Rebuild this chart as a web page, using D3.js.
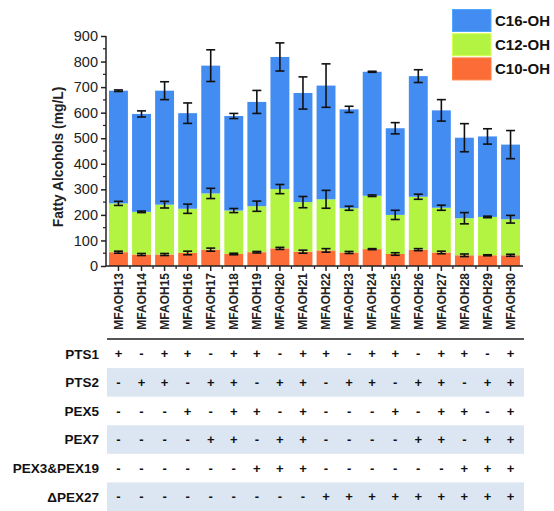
<!DOCTYPE html>
<html><head><meta charset="utf-8">
<script src="https://cdn.jsdelivr.net/npm/d3@7"></script>
<style>body{margin:0;background:#fff}svg{display:block}text{font-family:"Liberation Sans",Arial,sans-serif}</style>
</head><body><svg id="c" width="554" height="511"></svg>
<script>
const strains = ["MFAOH13","MFAOH14","MFAOH15","MFAOH16","MFAOH17","MFAOH18","MFAOH19","MFAOH20","MFAOH21","MFAOH22","MFAOH23","MFAOH24","MFAOH25","MFAOH26","MFAOH27","MFAOH28","MFAOH29","MFAOH30"];
// cumulative tops (mg/L)
const c10Top = [54,45,45,51,64,47,54,69,56,61,53,66,47,64,53,42,42,42];
const c12Top = [245,212,240,224,284,217,234,301,250,261,226,275,200,271,228,187,192,183];
const c16Top = [686,595,686,598,784,587,642,818,677,706,613,760,539,743,609,502,507,475];
const err10 = [4,4,4,7,6,3,3,4,6,7,4,2,5,4,5,5,2,4];
const err12 = [8,3,13,18,20,8,20,18,22,35,8,3,18,10,10,22,3,15];
const err16 = [3,12,35,40,62,10,45,55,63,85,12,2,22,25,42,55,30,55];
const seriesNames = ["C10-OH","C12-OH","C16-OH"];
const yTicks = [0,100,200,300,400,500,600,700,800,900];
const rowLabels = ["PTS1","PTS2","PEX5","PEX7","PEX3&PEX19","\u0394PEX27"];
const rowPTS1 = "+-++-++-++-++-++-+";
const rowPTS2 = "-++-++-++-++-++-++";
const rowPEX5 = "---+-++-+---+-++-+";
const rowPEX7 = "----++-++----++-++";
const rowPEX319 = "------+++------+++";
const rowPEX27 = "---------+++++++++";
const tableRows = [rowPTS1,rowPTS2,rowPEX5,rowPEX7,rowPEX319,rowPEX27];

const colors = {"C10-OH":"#fc6c36","C12-OH":"#b3f443","C16-OH":"#428cf2"};
const svg = d3.select("#c");
const x = d3.scaleBand().domain(strains).range([106,523]).paddingInner(0.18).paddingOuter(0.13);
const y = d3.scaleLinear().domain([0,900]).range([266,36]);

// stacked segments
const segs = [];
strains.forEach((s,i)=>{
  segs.push({s, k:"C10-OH", y0:0, y1:c10Top[i], e:err10[i]});
  segs.push({s, k:"C12-OH", y0:c10Top[i], y1:c12Top[i], e:err12[i]});
  segs.push({s, k:"C16-OH", y0:c12Top[i], y1:c16Top[i], e:err16[i]});
});
svg.append("g").selectAll("rect").data(segs).join("rect")
  .attr("x",d=>x(d.s)).attr("width",x.bandwidth())
  .attr("y",d=>y(d.y1)).attr("height",d=>y(d.y0)-y(d.y1))
  .attr("fill",d=>colors[d.k]);

// error bars
const eg = svg.append("g").attr("stroke","#111").attr("stroke-width",1.6).attr("fill","none");
segs.forEach(d=>{
  const cx = x(d.s)+x.bandwidth()/2;
  const hi = y(d.y1+d.e), lo = y(d.y1-d.e);
  eg.append("line").attr("x1",cx).attr("x2",cx).attr("y1",hi).attr("y2",lo);
  eg.append("line").attr("x1",cx-4.5).attr("x2",cx+4.5).attr("y1",hi).attr("y2",hi);
  eg.append("line").attr("x1",cx-4.5).attr("x2",cx+4.5).attr("y1",lo).attr("y2",lo);
});

// y axis
const ya = svg.append("g").attr("transform","translate(106,0)")
  .call(d3.axisLeft(y).tickValues(yTicks).tickSize(5).tickPadding(3).tickFormat(d3.format("d")));
ya.selectAll("text").attr("font-size","14.5px").attr("fill","#222");
ya.select(".domain").attr("stroke","#222").attr("stroke-width",1.5).attr("d","M0,266V36");
ya.selectAll(".tick line").attr("stroke","#222").attr("stroke-width",1.5);
const minorY = d3.range(50,900,100);
ya.selectAll(".minor").data(minorY).join("line").attr("class","minor")
  .attr("x1",-3).attr("x2",0).attr("y1",d=>y(d)).attr("y2",d=>y(d)).attr("stroke","#222").attr("stroke-width",1.2);

svg.append("text").attr("transform","translate(63,157) rotate(-90)")
  .attr("text-anchor","middle").attr("font-size","13.8px").attr("font-weight","bold").attr("fill","#222")
  .text("Fatty Alcohols (mg/L)");

// x axis
const xa = svg.append("g").attr("transform","translate(0,266)")
  .call(d3.axisBottom(x).tickSize(5).tickSizeOuter(0));
xa.select(".domain").attr("stroke","#222").attr("stroke-width",1.5).attr("d","M106,0H523");
xa.selectAll(".tick line").attr("stroke","#222").attr("stroke-width",1.5);
xa.selectAll(".tick text").attr("font-size","12px").attr("font-weight","bold").attr("fill","#222")
  .attr("text-anchor","end").attr("transform","rotate(-90)").attr("x",-7).attr("y",0).attr("dy","0.36em");
const step = x.step();
const edges = strains.slice(0,-1).map(s=>x(s)+x.bandwidth()/2+step/2);
xa.selectAll(".minor").data(edges).join("line").attr("class","minor")
  .attr("x1",d=>d).attr("x2",d=>d).attr("y1",0).attr("y2",3).attr("stroke","#222").attr("stroke-width",1.2);

// legend
const lg = svg.append("g");
["C16-OH","C12-OH","C10-OH"].forEach((k,i)=>{
  const ly = 9.5 + i*24.2;
  lg.append("rect").attr("x",452.5).attr("y",ly).attr("width",38.5).attr("height",22)
    .attr("fill",colors[k]).attr("stroke",d3.color(colors[k]).brighter(0.5)).attr("stroke-width",1);
  lg.append("text").attr("x",495).attr("y",ly+11).attr("dy","0.36em")
    .attr("font-size","15px").attr("font-weight","bold").attr("fill","#111").text(k);
});

// table
svg.append("line").attr("x1",107).attr("x2",524).attr("y1",339).attr("y2",339)
  .attr("stroke","#555").attr("stroke-width",2);
const rowY = d3.scaleBand().domain(rowLabels).range([339.5,511]).paddingInner(0).paddingOuter(0);
rowLabels.forEach((lab,r)=>{
  const top = rowY(lab), cy = top + rowY.bandwidth()/2;
  if (r%2===1) svg.append("rect").attr("x",107).attr("width",417).attr("y",top).attr("height",rowY.bandwidth())
    .attr("fill","#dce6f2");
  svg.append("text").attr("x",99).attr("y",cy).attr("dy","0.36em").attr("text-anchor","end")
    .attr("font-size","13.5px").attr("font-weight","bold").attr("fill","#111").text(lab);
  svg.append("g").selectAll("text").data(tableRows[r].split("")).join("text")
    .attr("x",(d,i)=>x(strains[i])+x.bandwidth()/2).attr("y",cy).attr("dy","0.36em")
    .attr("text-anchor","middle").attr("font-size","13px").attr("font-weight","bold").attr("fill","#111")
    .text(d=>d);
});
</script></body></html>
